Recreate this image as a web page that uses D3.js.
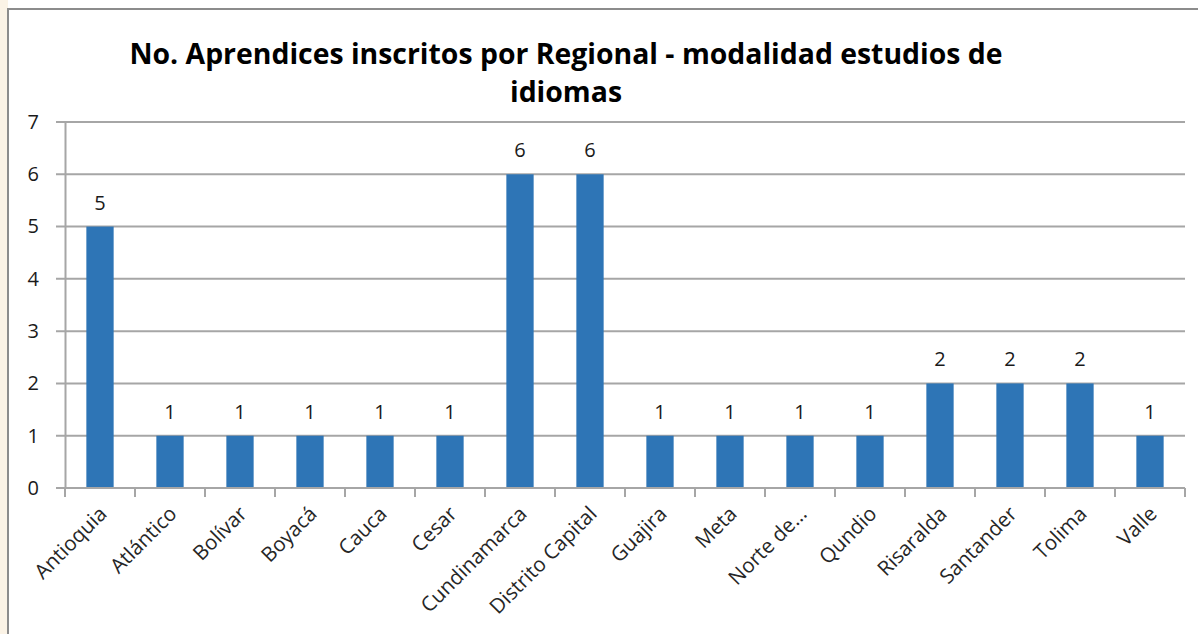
<!DOCTYPE html>
<html>
<head>
<meta charset="utf-8">
<script src="https://cdn.jsdelivr.net/npm/d3@7"></script>
<style>
  body { margin: 0; background: #fff; }
  svg { display: block; }
</style>
</head>
<body>
<svg id="chart"></svg>
<script>
let width = 1198
let height = 634

let categories = ['Antioquia', 'Atlántico', 'Bolívar', 'Boyacá', 'Cauca', 'Cesar',
  'Cundinamarca', 'Distrito Capital', 'Guajira', 'Meta', 'Norte de...', 'Qundio',
  'Risaralda', 'Santander', 'Tolima', 'Valle']
let values = [5, 1, 1, 1, 1, 1, 6, 6, 1, 1, 1, 1, 2, 2, 2, 1]
let yTicks = [0, 1, 2, 3, 4, 5, 6, 7]
let titleLines = ['No. Aprendices inscritos por Regional - modalidad estudios de', 'idiomas']

let margin = { left: 65, right: 13, top: 122, bottom: 146 }

let svg = d3.select('#chart')
  .attr('width', width)
  .attr('height', height)

// faint watermark strip left of the frame
svg.append('rect')
  .attr('x', 0).attr('y', 0)
  .attr('width', 8).attr('height', height)
  .attr('fill', '#fbf3e6')

// chart frame (only top and left visible)
svg.append('rect')
  .attr('x', 8).attr('y', 9)
  .attr('width', width).attr('height', height)
  .attr('fill', '#fff')
  .attr('stroke', '#8c8c8c')
  .attr('stroke-width', 2)

let x = d3.scaleBand()
  .domain(categories)
  .range([margin.left, width - margin.right])
  .paddingInner(0.61)
  .paddingOuter(0.305)

let y = d3.scaleLinear()
  .domain([0, 7])
  .range([height - margin.bottom, margin.top])

// gridlines
svg.append('g')
  .selectAll('line')
  .data(yTicks)
  .enter()
  .append('line')
  .attr('x1', margin.left - 9)
  .attr('x2', width - margin.right)
  .attr('y1', (d) => y(d))
  .attr('y2', (d) => y(d))
  .attr('stroke', '#a6a6a6')
  .attr('stroke-width', 2)

// y axis
let yAxis = svg.append('g')
  .attr('transform', `translate(${margin.left}, 0)`)
  .call(d3.axisLeft(y).tickValues(yTicks).tickFormat(d3.format('d')).tickSize(0).tickPadding(26))
yAxis.select('.domain').attr('stroke', '#a6a6a6').attr('stroke-width', 2)
yAxis.selectAll('text')
  .attr('font-family', 'Open Sans, sans-serif')
  .attr('font-size', 20)
  .attr('fill', '#1a1a1a')

// bars
svg.append('g')
  .selectAll('rect')
  .data(values)
  .enter()
  .append('rect')
  .attr('x', (d, i) => x(categories[i]))
  .attr('y', (d) => y(d))
  .attr('width', x.bandwidth())
  .attr('height', (d) => y(0) - y(d))
  .attr('fill', '#2e75b6')

// x axis with ticks at band edges
let step = x.step()
let edges = d3.range(categories.length + 1).map((i) => margin.left + i * step)
let xAxis = svg.append('g')
edges.forEach((e) => {
  xAxis.append('line')
    .attr('x1', e).attr('x2', e)
    .attr('y1', y(0)).attr('y2', y(0) + 9)
    .attr('stroke', '#a6a6a6')
    .attr('stroke-width', 2)
})
xAxis.append('line')
  .attr('x1', margin.left).attr('x2', width - margin.right)
  .attr('y1', y(0)).attr('y2', y(0))
  .attr('stroke', '#a6a6a6')
  .attr('stroke-width', 2)

xAxis.selectAll('text.cat')
  .data(categories)
  .enter()
  .append('text')
  .attr('class', 'cat')
  .attr('transform', (d) => `translate(${x(d) + x.bandwidth() / 2 + 3}, ${y(0) + 22}) rotate(-45)`)
  .attr('text-anchor', 'end')
  .attr('dy', '0.35em')
  .attr('font-family', 'Open Sans, sans-serif')
  .attr('font-size', 20.5)
  .attr('fill', '#262626')
  .text((d) => d)

// data labels
svg.append('g')
  .selectAll('text')
  .data(values)
  .enter()
  .append('text')
  .attr('x', (d, i) => x(categories[i]) + x.bandwidth() / 2)
  .attr('y', (d) => y(d) - 17)
  .attr('text-anchor', 'middle')
  .attr('font-family', 'Open Sans, sans-serif')
  .attr('font-size', 20)
  .attr('fill', '#1a1a1a')
  .text((d) => d)

// title
svg.append('g')
  .selectAll('text')
  .data(titleLines)
  .enter()
  .append('text')
  .attr('x', 566)
  .attr('y', (d, i) => 64 + i * 38)
  .attr('text-anchor', 'middle')
  .attr('font-family', 'Open Sans, sans-serif')
  .attr('font-weight', 'bold')
  .attr('font-size', 28.4)
  .attr('fill', '#000')
  .text((d) => d)
</script>
</body>
</html>
